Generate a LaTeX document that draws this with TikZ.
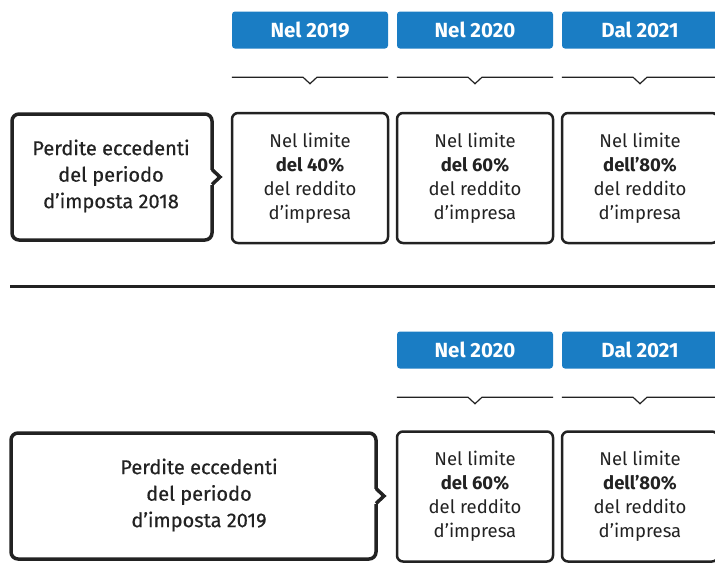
\documentclass[tikz,border=0pt]{standalone}
\usepackage{fontspec}
\setmainfont{Fira Sans}
\newfontfamily\medfont{Fira Sans}[FakeBold=0.6]
\definecolor{tabblue}{RGB}{26,125,196}
\definecolor{ink}{RGB}{34,34,34}
\tikzset{
  tab/.style={fill=tabblue, text=white, rounded corners=3pt, inner sep=0pt,
    minimum width=156pt, minimum height=37pt,
    font=\fontsize{20.5}{22}\selectfont\bfseries},
  limitbox/.style={draw=ink, line width=2.5pt, rounded corners=6pt, outer sep=0pt,
    minimum width=156pt, minimum height=130pt, align=center, text=ink,
    font=\fontsize{18.5}{24}\selectfont},
  lossbox/.style={draw=ink, line width=3.5pt, rounded corners=7pt, outer sep=0pt,
    minimum height=126pt},
  losstext/.style={align=center, text=ink, font=\fontsize{20}{26.5}\selectfont\medfont},
  yearline/.style={draw=ink, line width=1.2pt},
  notch/.style={draw=ink, line width=3.5pt, line join=miter}
}
% line with a small v under a year tab
\newcommand\tabline[1]{%
  \draw[yearline] ([yshift=-28.5pt]#1.south west) -- ([xshift=-7pt,yshift=-28.5pt]#1.south)
    -- ([yshift=-35pt]#1.south) -- ([xshift=7pt,yshift=-28.5pt]#1.south)
    -- ([yshift=-28.5pt]#1.south east);}
% pointer on the right side of a loss box
\newcommand\pointer[1]{%
  \fill[white] ([xshift=-2.5pt,yshift=-7.5pt]#1.east) rectangle ([xshift=2.5pt,yshift=7.5pt]#1.east);
  \draw[notch] ([yshift=7.5pt]#1.east) -- ([xshift=8pt]#1.east) -- ([yshift=-7.5pt]#1.east);}
\begin{document}
\begin{tikzpicture}[x=1pt,y=-1pt]
  \useasboundingbox (0,0) rectangle (715,587);
  \clip (0,0) rectangle (715,587);

  % losses of 2018
  \node[tab] (t19a) at (310,30) {Nel 2019};
  \node[tab] (t20a) at (475,30) {Nel 2020};
  \node[tab] (t21a) at (640,30) {Dal 2021};
  \tabline{t19a}
  \tabline{t20a}
  \tabline{t21a}
  \node[lossbox, minimum width=200pt] (p18) at (112,177) {};
  \node[losstext] at (111,176) {Perdite eccedenti\\del periodo\\d’imposta 2018};
  \pointer{p18}
  \node[limitbox] (a40) at (310,178) {Nel limite\\\textbf{del 40\%}\\del reddito\\d’impresa};
  \node[limitbox] (a60) at (475,178) {Nel limite\\\textbf{del 60\%}\\del reddito\\d’impresa};
  \node[limitbox] (a80) at (640,178) {Nel limite\\\textbf{dell’80\%}\\del reddito\\d’impresa};

  \draw[draw=ink, line width=2.5pt] (10,286.5) -- (715,286.5);

  % losses of 2019
  \node[tab] (t20b) at (475,350) {Nel 2020};
  \node[tab] (t21b) at (640,350) {Dal 2021};
  \tabline{t20b}
  \tabline{t21b}
  \node[lossbox, minimum width=365pt] (p19) at (193.5,496) {};
  \node[losstext] at (199,495) {Perdite eccedenti\\del periodo\\d’imposta 2019};
  \pointer{p19}
  \node[limitbox] (b60) at (475,496.5) {Nel limite\\\textbf{del 60\%}\\del reddito\\d’impresa};
  \node[limitbox] (b80) at (640,496.5) {Nel limite\\\textbf{dell’80\%}\\del reddito\\d’impresa};
\end{tikzpicture}
\end{document}
